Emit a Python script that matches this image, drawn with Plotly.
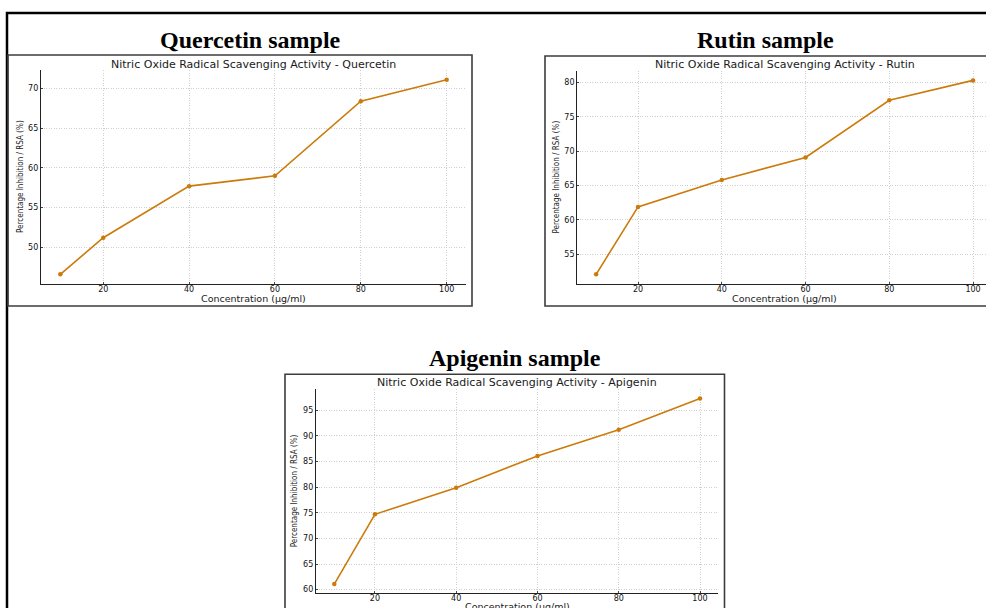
import plotly.graph_objects as go

# ---- data ----
concentration = [10, 20, 40, 60, 80, 100]
quercetin = [46.6, 51.2, 57.7, 59.0, 68.4, 71.1]
rutin = [52.1, 61.9, 65.8, 69.1, 77.4, 80.3]
apigenin = [61.1, 74.7, 79.9, 86.1, 91.2, 97.3]

panel_titles = ["Quercetin sample", "Rutin sample", "Apigenin sample"]
sub_titles = ["Nitric Oxide Radical Scavenging Activity - Quercetin",
              "Nitric Oxide Radical Scavenging Activity - Rutin",
              "Nitric Oxide Radical Scavenging Activity - Apigenin"]
x_title = "Concentration (µg/ml)"
y_title = "Percentage Inhibition / RSA (%)"

W, H = 986, 608
def fx(p): return p / W
def fy(p): return 1 - p / H

LINE = "#cc7a0a"
TICKFONT = dict(family="DejaVu Sans", size=8, color="#111111")
YFONT = "Liberation Sans Narrow, Arial Narrow, DejaVu Sans Condensed, Liberation Sans, sans-serif"

def rng(vals):
    lo, hi = min(vals), max(vals)
    m = (hi - lo) * 0.05
    return [lo - m, hi + m]

# panel geometry in pixels: (x0, x1, ytop, ybottom)
panels = [
    dict(dom=(41, 466, 70, 284), data=quercetin, xr=rng(concentration), dtick=5),
    dict(dom=(577.3, 986, 70.7, 284), data=rutin, xr=[5.5, 103.1], dtick=5),
    dict(dom=(316, 718.3, 389.3, 593.3), data=apigenin, xr=rng(concentration), dtick=5),
]

fig = go.Figure()
layout = dict(width=W, height=H, margin=dict(l=0, r=0, t=0, b=0),
              paper_bgcolor="white", plot_bgcolor="white", showlegend=False)

for i, p in enumerate(panels):
    n = "" if i == 0 else str(i + 1)
    x0, x1, yt, yb = p["dom"]
    fig.add_trace(go.Scatter(
        x=concentration, y=p["data"], mode="lines+markers",
        line=dict(color=LINE, width=1.6),
        marker=dict(color=LINE, size=4.5),
        xaxis="x" + n, yaxis="y" + n, cliponaxis=False))
    axcommon = dict(showline=True, linecolor="#222222", linewidth=1.3,
                    showgrid=True, gridcolor="#cfcfcf", griddash="1px,1.5px", gridwidth=0.9,
                    ticks="inside", ticklen=2, tickcolor="#444444",
                    tickfont=TICKFONT, zeroline=False, mirror=False)
    layout["xaxis" + n] = dict(domain=[fx(x0), fx(x1)], range=p["xr"],
                              tick0=0, dtick=20, anchor="y" + n,
                              ticklabelstandoff=-3, **axcommon)
    layout["yaxis" + n] = dict(domain=[fy(yb), fy(yt)], range=rng(p["data"]),
                              tick0=0, dtick=p["dtick"], anchor="x" + n,
                              ticklabelstandoff=0, **axcommon)

ann = []
shapes = []
# outer black border (cropped on right and bottom)
shapes.append(dict(type="rect", xref="paper", yref="paper",
                   x0=fx(7), x1=fx(W + 10), y0=fy(H + 10), y1=fy(13),
                   line=dict(color="black", width=2.5)))
# panel boxes
boxes = [(8, 472, 55, 306), (545, W + 10, 56, 306), (285, 724.5, 374.3, H + 10)]
for (bx0, bx1, by0, by1) in boxes:
    shapes.append(dict(type="rect", xref="paper", yref="paper",
                       x0=fx(bx0), x1=fx(bx1), y0=fy(by1), y1=fy(by0),
                       line=dict(color="#3c3c3c", width=1.6)))

title_pos = [(250, 40), (765, 40), (515, 358)]
sub_pos = [(253.5, 64), (784.6, 64), (517, 382.7)]
xt_pos = [(253.5, 298.5), (784.6, 298.5), (517, 606)]
yt_pos = [(20, 177), (556, 177.5), (294, 491.3)]

for i in range(3):
    ann.append(dict(text="<b>" + panel_titles[i] + "</b>", x=fx(title_pos[i][0]), y=fy(title_pos[i][1]),
                    xref="paper", yref="paper", showarrow=False, xanchor="center", yanchor="middle",
                    font=dict(family="Liberation Serif, Times New Roman, serif", size=24, color="black")))
    ann.append(dict(text=sub_titles[i], x=fx(sub_pos[i][0]), y=fy(sub_pos[i][1]),
                    xref="paper", yref="paper", showarrow=False, xanchor="center", yanchor="middle",
                    font=dict(family="DejaVu Sans", size=11, color="#1a1a1a")))
    ann.append(dict(text=x_title, x=fx(xt_pos[i][0]), y=fy(xt_pos[i][1]),
                    xref="paper", yref="paper", showarrow=False, xanchor="center", yanchor="middle",
                    font=dict(family="DejaVu Sans", size=9.5, color="#1a1a1a")))
    ann.append(dict(text=y_title, x=fx(yt_pos[i][0]), y=fy(yt_pos[i][1]),
                    xref="paper", yref="paper", showarrow=False, xanchor="center", yanchor="middle",
                    textangle=-90,
                    font=dict(family=YFONT, size=8, color="#1a1a1a")))

layout["annotations"] = ann
layout["shapes"] = shapes
fig.update_layout(**layout)
fig.write_html("out.html")
